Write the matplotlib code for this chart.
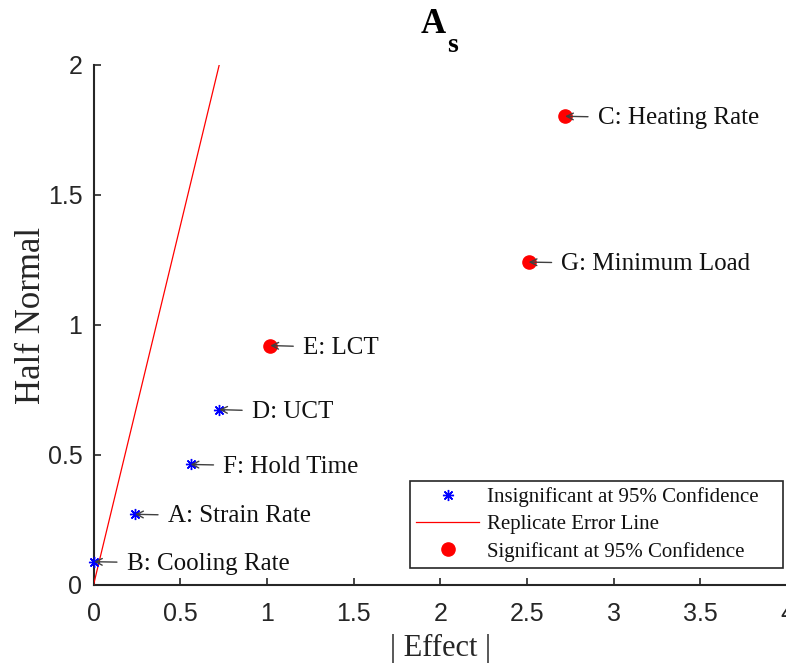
import matplotlib
matplotlib.use("Agg")
import matplotlib.pyplot as plt
from matplotlib.lines import Line2D

# Data
labels = ["B: Cooling Rate", "A: Strain Rate", "F: Hold Time", "D: UCT",
          "E: LCT", "G: Minimum Load", "C: Heating Rate"]
effects = [0.003, 0.24, 0.56, 0.725, 1.02, 2.51, 2.72]
half_normal = [0.0896, 0.2719, 0.4637, 0.6745, 0.9210, 1.2419, 1.8027]
significant = [False, False, False, False, True, True, True]
error_line_x = [0.0, 0.725]
error_line_y = [0.0, 2.0]
x_ticks = [0, 0.5, 1, 1.5, 2, 2.5, 3, 3.5, 4]
x_tick_labels = ['0', '0.5', '1', '1.5', '2', '2.5', '3', '3.5', '4']
y_ticks = [0, 0.5, 1, 1.5, 2]
y_tick_labels = ['0', '0.5', '1', '1.5', '2']

W, H = 786, 664
fig = plt.figure(figsize=(W / 100, H / 100), dpi=100)
left_px, right_px, top_px, bottom_px = 93.5, 787, 65, 585
aw, ah = right_px - left_px, bottom_px - top_px
ax = fig.add_axes([left_px / W, 1 - bottom_px / H, aw / W, ah / H])

serif = 'Liberation Serif'
sans = 'Liberation Sans'
dark = '#262626'

ins_x = [e for e, s in zip(effects, significant) if not s]
ins_y = [h for h, s in zip(half_normal, significant) if not s]
sig_x = [e for e, s in zip(effects, significant) if s]
sig_y = [h for h, s in zip(half_normal, significant) if s]

star = (8, 2, 0)
ax.plot(ins_x, ins_y, linestyle='none', marker=star, markersize=8,
        markeredgewidth=1.0, color='blue', clip_on=False, zorder=4)
ax.plot(error_line_x, error_line_y, color='red', lw=0.9, zorder=3)
ax.plot(sig_x, sig_y, linestyle='none', marker='o', markersize=9.5,
        color='red', clip_on=False, zorder=4)

for lab, x, y in zip(labels, effects, half_normal):
    ax.annotate(lab, xy=(x, y), xytext=(23.5, -1.5), textcoords='offset points',
                va='center', ha='left', fontsize=18, family=serif, color='#111111',
                arrowprops=dict(arrowstyle='->', color='#404040', lw=1.0,
                                shrinkA=5, shrinkB=0, mutation_scale=12),
                zorder=5)

ax.set_xlim(0, 4)
ax.set_ylim(0, 2)
ax.set_xticks(x_ticks)
ax.set_xticklabels(x_tick_labels)
ax.set_yticks(y_ticks)
ax.set_yticklabels(y_tick_labels)
for lbl in ax.get_xticklabels() + ax.get_yticklabels():
    lbl.set_family(sans)
    lbl.set_fontsize(18)
    lbl.set_color(dark)
ax.tick_params(direction='in', length=5, width=1.2, colors=dark)
ax.tick_params(axis='x', pad=12)
ax.tick_params(axis='y', pad=8)
for sp in ['top', 'right']:
    ax.spines[sp].set_visible(False)
for sp in ['left', 'bottom']:
    ax.spines[sp].set_linewidth(1.5)
    ax.spines[sp].set_color(dark)

ax.set_xlabel('| Effect |', family=serif, fontsize=22, color=dark, labelpad=6)
ax.set_ylabel('Half Normal', family=serif, fontsize=25, color=dark)
ax.yaxis.set_label_coords((48 - left_px) / aw, (bottom_px - 315.5) / ah)

# Title A_s (bold, with subscript)
fig.text(433 / W, 1 - 33 / H, 'A', family=serif, weight='bold', fontsize=25,
         ha='center', va='baseline', color='black')
fig.text(447 / W, 1 - 52 / H, 's', family=serif, weight='bold', fontsize=20,
         ha='left', va='baseline', color='black')

handles = [
    Line2D([], [], linestyle='none', marker=star, markersize=8,
           markeredgewidth=1.0, color='blue'),
    Line2D([], [], color='red', lw=0.9),
    Line2D([], [], linestyle='none', marker='o', markersize=9.5, color='red'),
]
lx0 = (410 - left_px) / aw
lx1 = (783 - left_px) / aw
ly0 = (bottom_px - 568) / ah
leg = ax.legend(handles, ['Insignificant at 95% Confidence', 'Replicate Error Line',
                          'Significant at 95% Confidence'],
                loc='lower left', bbox_to_anchor=(lx0, ly0, lx1 - lx0, 0.1),
                mode='expand',
                prop={'family': serif, 'size': 15}, fancybox=False,
                framealpha=1, edgecolor=dark, handlelength=3.0,
                labelspacing=0.37, borderpad=0.3, handletextpad=0.4,
                borderaxespad=0)
leg.get_frame().set_linewidth(1.2)
for t in leg.get_texts():
    t.set_color('#111111')

fig.savefig('out.png', dpi=100)
